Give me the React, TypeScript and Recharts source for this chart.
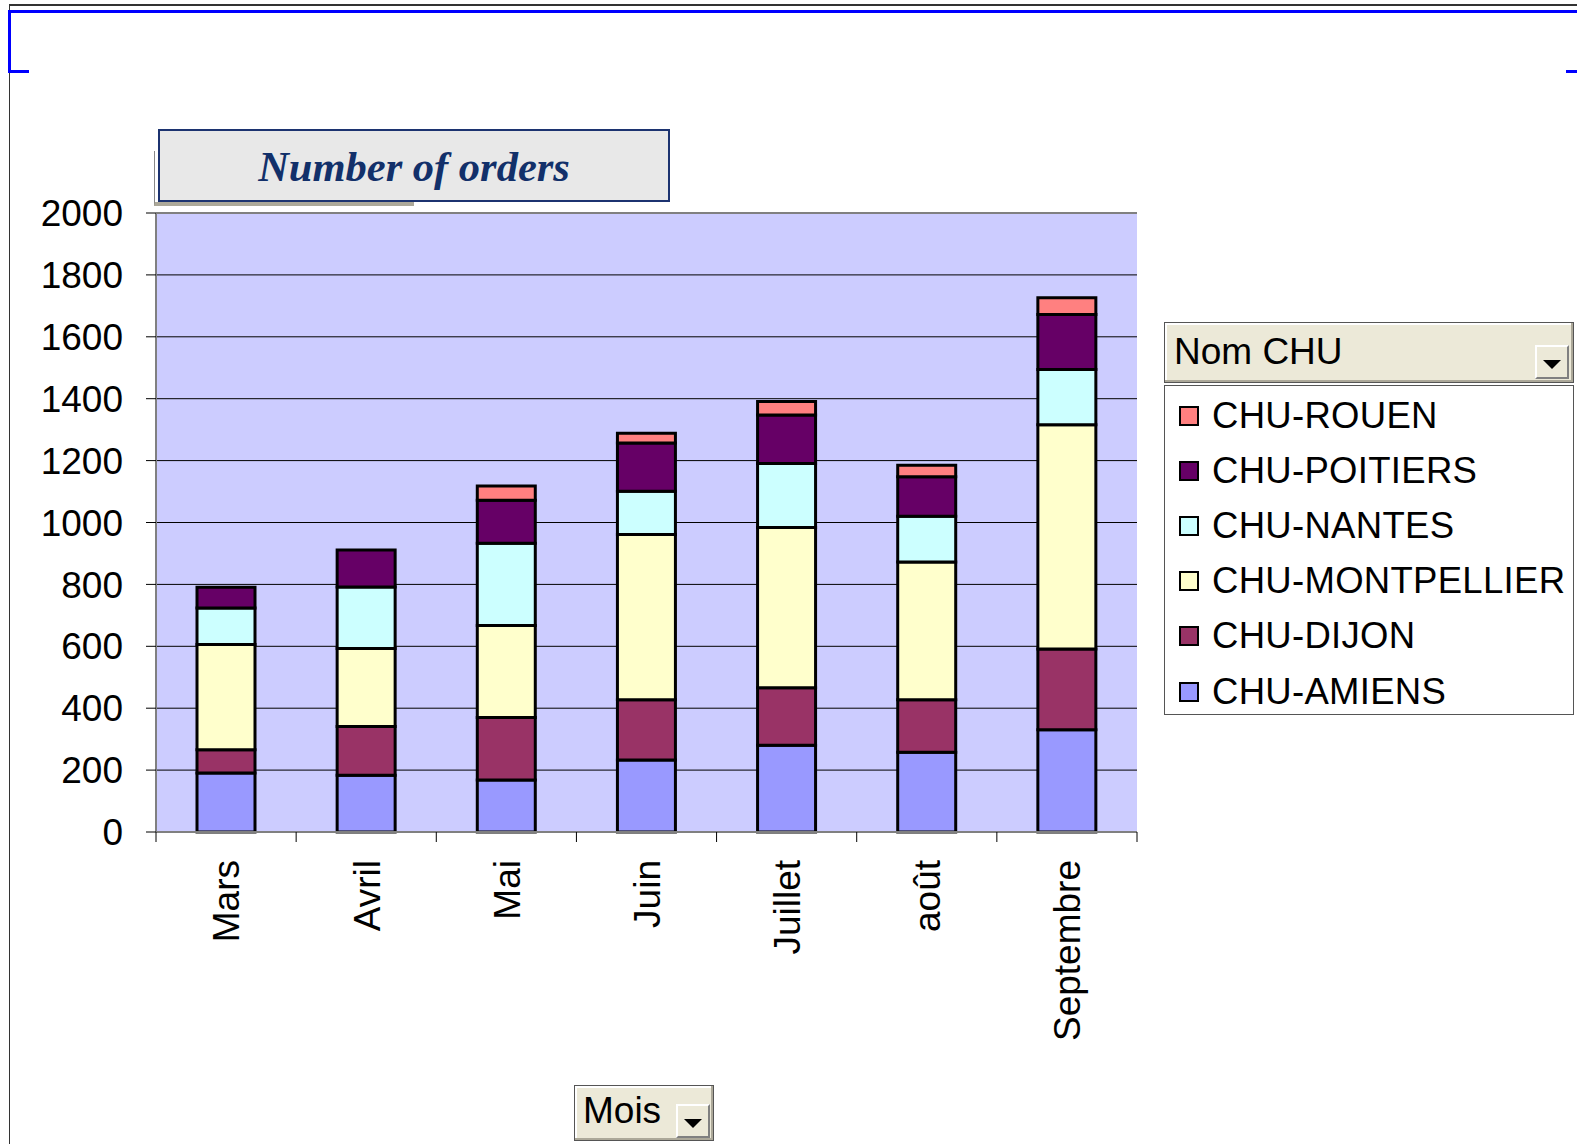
import React from 'react';
import { BarChart, Bar, XAxis, YAxis, CartesianGrid, Legend, ReferenceLine } from 'recharts';

const months = ['Mars', 'Avril', 'Mai', 'Juin', 'Juillet', 'août', 'Septembre'];
const amiens = [191, 183, 168, 233, 280, 258, 330];
const dijon = [75, 158, 202, 194, 186, 169, 261];
const montpellier = [340, 252, 297, 534, 518, 445, 725];
const nantes = [118, 199, 266, 140, 207, 148, 178];
const poitiers = [67, 119, 139, 156, 156, 128, 178];
const rouen = [0, 0, 46, 31, 44, 37, 54];
const yTicks = [0, 200, 400, 600, 800, 1000, 1200, 1400, 1600, 1800, 2000];

const seriesNames = ['CHU-AMIENS', 'CHU-DIJON', 'CHU-MONTPELLIER', 'CHU-NANTES', 'CHU-POITIERS', 'CHU-ROUEN'];
const seriesValues = [amiens, dijon, montpellier, nantes, poitiers, rouen];
const seriesColors = ['#9999ff', '#993366', '#ffffcc', '#ccffff', '#660066', '#ff8080'];

const data = months.map((m, i) => {
  const row: any = { month: m };
  seriesNames.forEach((n, s) => { row[n] = seriesValues[s][i]; });
  return row;
});

const FONT = '"Liberation Sans", Arial, sans-serif';

const XTick = (props: any) => {
  const { x, y, payload, index } = props;
  const off = payload && typeof payload.offset === 'number' && payload.offset > 0 ? payload.offset : 70;
  return (
    <g>
      <line x1={x - off} y1={y} x2={x - off} y2={y + 10} stroke="#000" strokeWidth={1} />
      {index === months.length - 1 && (
        <line x1={x + off} y1={y} x2={x + off} y2={y + 10} stroke="#000" strokeWidth={1} />
      )}
      <g transform={`translate(${x},${y})`}>
        <text x={-28} y={0} dy="0.36em" transform="rotate(-90)" textAnchor="end" fontSize={37} fontFamily={FONT} fill="#000">
          {payload.value}
        </text>
      </g>
    </g>
  );
};

const DropArrow = ({ style }: any) => (
  <div style={{
    position: 'absolute', width: 34, height: 34, background: '#ece9d8',
    borderTop: '2px solid #fff', borderLeft: '2px solid #fff', borderRight: '2px solid #808080', borderBottom: '2px solid #808080',
    boxSizing: 'border-box', ...style,
  }}>
    <div style={{ position: 'absolute', left: 6, top: 13, width: 0, height: 0, borderLeft: '9px solid transparent', borderRight: '9px solid transparent', borderTop: '9px solid #000' }} />
  </div>
);

const LegendContent = (props: any) => {
  const items = [...(props.payload || [])].reverse();
  return (
    <div style={{ position: 'relative', width: 410, fontFamily: FONT }}>
      <div style={{
        position: 'absolute', left: 0, top: 0, width: 410, height: 61, background: '#ece9d8',
        border: '1px solid #555', boxSizing: 'border-box', boxShadow: 'inset -2px -2px 0 #aca899, inset 2px 2px 0 #fff',
      }}>
        <div style={{ position: 'absolute', left: 9, top: 8, fontSize: 37, color: '#000', lineHeight: '42px' }}>Nom CHU</div>
        <DropArrow style={{ left: 370, top: 22 }} />
      </div>
      <div style={{
        position: 'absolute', left: 0, top: 63, width: 410, height: 330, background: '#fff',
        border: '1px solid #555', boxSizing: 'border-box',
      }}>
        {items.map((it: any, i: number) => (
          <div key={it.value} style={{ position: 'absolute', left: 14, top: 12 + i * 55.1, height: 36, display: 'flex', alignItems: 'center' }}>
            <div style={{ width: 20, height: 20, background: it.color, border: '2px solid #000', boxSizing: 'border-box', marginRight: 13 }} />
            <span style={{ fontSize: 36.5, color: '#000', whiteSpace: 'nowrap', lineHeight: '36px', letterSpacing: 0.3 }}>{it.value}</span>
          </div>
        ))}
      </div>
    </div>
  );
};

export default function App() {
  return (
    <div style={{ position: 'absolute', left: 0, top: 0, width: 1577, height: 1144, background: '#fff', overflow: 'hidden' }}>
      {/* frame lines */}
      <div style={{ position: 'absolute', left: 9, top: 4, width: 1568, height: 2, background: '#333' }} />
      <div style={{ position: 'absolute', left: 9, top: 4, width: 1, height: 1140, background: '#333' }} />
      <div style={{ position: 'absolute', left: 8, top: 10, width: 1569, height: 3, background: '#0000ff' }} />
      <div style={{ position: 'absolute', left: 8, top: 10, width: 3, height: 63, background: '#0000ff' }} />
      <div style={{ position: 'absolute', left: 8, top: 70, width: 21, height: 3, background: '#0000ff' }} />
      <div style={{ position: 'absolute', left: 1566, top: 70, width: 11, height: 3, background: '#0000ff' }} />

      <BarChart
        width={1577}
        height={1144}
        data={data}
        margin={{ top: 213, right: 440, bottom: 92, left: 36 }}
        barSize={58}
        style={{ position: 'absolute', left: 0, top: 0 }}
      >
        <CartesianGrid vertical={false} stroke="#000" strokeWidth={1} fill="#ccccff" fillOpacity={1} />
        <XAxis
          dataKey="month"
          height={220}
          interval={0}
          tickLine={false}
          tickSize={0}
          tickMargin={0}
          axisLine={{ stroke: '#808080', strokeWidth: 2 }}
          tick={<XTick />}
        />
        <YAxis
          width={120}
          domain={[0, 2000]}
          ticks={yTicks}
          interval={0}
          tickSize={10}
          tickMargin={23}
          tickLine={{ stroke: '#000' }}
          axisLine={{ stroke: '#808080', strokeWidth: 2 }}
          tick={{ fontSize: 37, fill: '#000', fontFamily: FONT }}
        />
        <YAxis
          yAxisId="r"
          orientation="right"
          width={0}
          domain={[0, 2000]}
          tick={false}
          tickLine={false}
          axisLine={{ stroke: '#808080', strokeWidth: 2 }}
        />
        <ReferenceLine y={2000} stroke="#808080" strokeWidth={2} />
        {seriesNames.map((n, s) => (
          <Bar key={n} dataKey={n} name={n} stackId="a" fill={seriesColors[s]} stroke="#000" strokeWidth={3} isAnimationActive={false} />
        ))}
        <Legend
          layout="vertical"
          align="center"
          verticalAlign="middle"
          content={<LegendContent />}
          wrapperStyle={{ position: 'absolute', left: 1164, top: 322, width: 410, height: 395 }}
        />
      </BarChart>

      {/* title */}
      <div style={{ position: 'absolute', left: 154, top: 151, width: 260, height: 55, borderLeft: '1px solid #888', borderBottom: '4px solid #aca899', boxSizing: 'border-box' }} />
      <div style={{
        position: 'absolute', left: 158, top: 129, width: 512, height: 73, background: '#e8e8e8',
        border: '2px solid #1c3370', boxSizing: 'border-box', display: 'flex', alignItems: 'center', justifyContent: 'center',
      }}>
        <span style={{ fontFamily: '"Liberation Serif", "Times New Roman", serif', fontWeight: 'bold', fontStyle: 'italic', fontSize: 42.5, color: '#12306a', marginTop: 2 }}>
          Number of orders
        </span>
      </div>

      {/* Mois button */}
      <div style={{
        position: 'absolute', left: 574, top: 1085, width: 140, height: 56, background: '#ece9d8',
        border: '1px solid #555', boxSizing: 'border-box', boxShadow: 'inset -2px -2px 0 #aca899, inset 2px 2px 0 #fff', fontFamily: FONT,
      }}>
        <div style={{ position: 'absolute', left: 8, top: 4, fontSize: 37, color: '#000', lineHeight: '42px' }}>Mois</div>
        <DropArrow style={{ left: 101, top: 18 }} />
      </div>
    </div>
  );
}
